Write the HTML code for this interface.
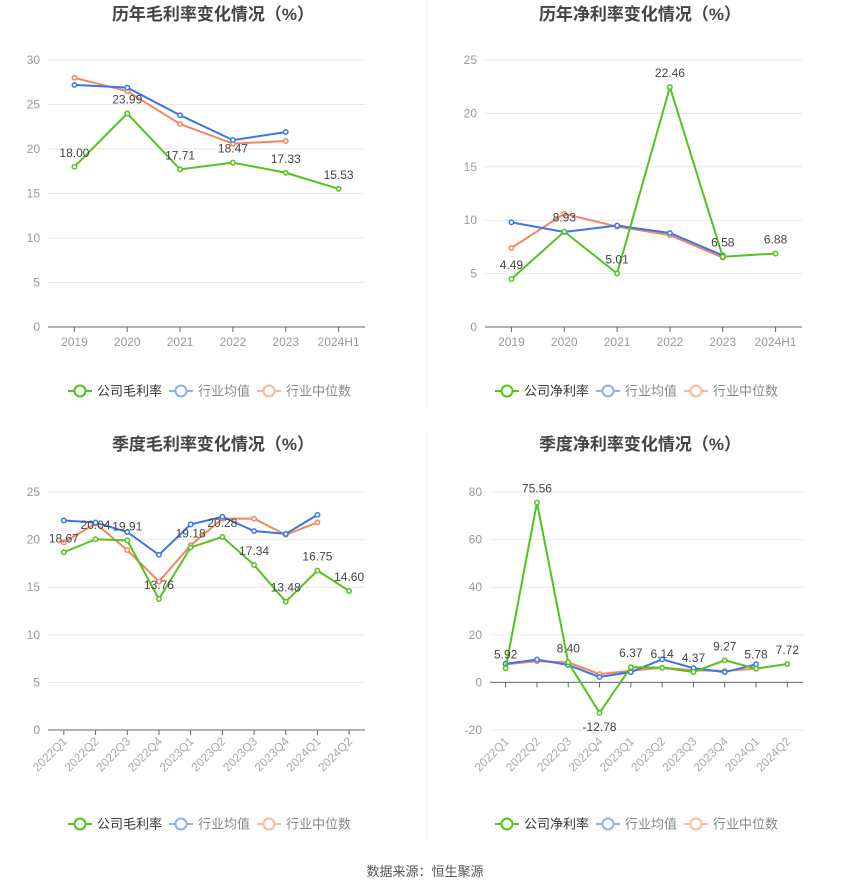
<!DOCTYPE html>
<html><head><meta charset="utf-8">
<style>
body{margin:0;background:#fff;width:850px;height:891px;overflow:hidden;font-family:"Liberation Sans","Noto Sans CJK SC",sans-serif;}
svg{display:block}
</style></head>
<body>
<svg id="root" width="850" height="891" xmlns="http://www.w3.org/2000/svg">
<line x1="427" y1="0" x2="427" y2="407" stroke="#eee"/>
<line x1="427" y1="431" x2="427" y2="840" stroke="#eee"/>
<text x="425" y="876" text-anchor="middle" font-size="13" fill="#555">数据来源：恒生聚源</text>
</svg>
<script>
// Chart 1 data
const c1Cats=["2019","2020","2021","2022","2023","2024H1"];
const c1Company=[18.00,23.99,17.71,18.47,17.33,15.53];
const c1Avg=[27.2,26.9,23.8,21.0,21.9];
const c1Median=[28.0,26.5,22.8,20.6,20.9];
const c1Ticks=[0,5,10,15,20,25,30];
// Chart 2 data
const c2Cats=["2019","2020","2021","2022","2023","2024H1"];
const c2Company=[4.49,8.93,5.01,22.46,6.58,6.88];
const c2Avg=[9.8,8.9,9.5,8.8,6.7];
const c2Median=[7.4,10.6,9.4,8.6,6.5];
const c2Ticks=[0,5,10,15,20,25];
// Chart 3 data
const c3Cats=["2022Q1","2022Q2","2022Q3","2022Q4","2023Q1","2023Q2","2023Q3","2023Q4","2024Q1","2024Q2"];
const c3Company=[18.67,20.04,19.91,13.76,19.18,20.28,17.34,13.48,16.75,14.60];
const c3Avg=[22.0,21.8,20.8,18.4,21.6,22.4,20.9,20.6,22.6];
const c3Median=[19.7,21.7,18.9,15.6,19.4,22.2,22.2,20.5,21.8];
const c3Ticks=[0,5,10,15,20,25];
// Chart 4 data
const c4Cats=["2022Q1","2022Q2","2022Q3","2022Q4","2023Q1","2023Q2","2023Q3","2023Q4","2024Q1","2024Q2"];
const c4Company=[5.92,75.56,8.40,-12.78,6.37,6.14,4.37,9.27,5.78,7.72];
const c4Avg=[7.8,9.6,7.3,2.3,4.3,9.7,6.0,4.3,7.6];
const c4Median=[7.6,8.9,8.4,3.5,4.9,6.2,5.1,4.8,5.8];
const c4Ticks=[-20,0,20,40,60,80];

const NS="http://www.w3.org/2000/svg";
const root=document.getElementById('root');
function mk(tag,attrs,parent){const e=document.createElementNS(NS,tag);for(const k in attrs)e.setAttribute(k,attrs[k]);(parent||root).appendChild(e);return e;}

const GREEN="#52c41a",BLUE="#3a76e8",ORANGE="#f5855a";

function chart(o){
  const g=mk('g',{});
  
  
  const n=o.cats.length, step=(o.right-o.left)/n;
  const x=i=>o.left+step*(i+0.5);
  const y=v=>o.y0+(v-o.t0)*(o.y1-o.y0)/(o.t1-o.t0);
  const t=mk('text',{x:o.cx,y:o.titleY,'text-anchor':'middle','font-size':17,'font-weight':'bold',fill:'#444'},g);
  t.textContent=o.title;
  
  
  o.ticks.forEach(v=>{
    const l=mk('line',{x1:o.left,x2:o.right,y1:y(v),y2:y(v),stroke:'#e3e7f3'},g);
    
    
    const tl=mk('text',{x:o.left-8,y:y(v)+4,'text-anchor':'end','font-size':12,fill:'#999'},g);
    tl.textContent=v;
    
    
  });
  const ay=y(0);
  const ax=mk('line',{x1:o.left,x2:o.right,y1:ay,y2:ay,stroke:'#666'},g);
  
  
  o.cats.forEach((c,i)=>{
    mk('line',{x1:x(i),x2:x(i),y1:ay,y2:ay+5,stroke:'#666'},g);
    let tl;
    if(o.rot){
      const yy=y(o.t0)+12;
      tl=mk('text',{x:x(i)+4,y:yy,'text-anchor':'end','font-size':12,fill:'#aaa',transform:`rotate(-45 ${x(i)+4} ${yy})`},g);
    } else {
      tl=mk('text',{x:x(i),y:ay+19,'text-anchor':'middle','font-size':12,fill:'#999'},g);
    }
    tl.textContent=c;
    
    
  });
  const series=[[o.median,ORANGE,'industry-median-line'],[o.avg,BLUE,'industry-average-line'],[o.company,GREEN,'company-line']];
  series.forEach(([d,col,nm])=>{
    const p=mk('polyline',{points:d.map((v,i)=>x(i)+','+y(v)).join(' '),fill:'none',stroke:col,'stroke-width':2},g);
    
    
    d.forEach((v,i)=>{
      const c=mk('circle',{cx:x(i),cy:y(v),r:2.2,fill:'#fff',stroke:col,'stroke-width':1.5},g);
      
      
    });
  });
  o.company.forEach((v,i)=>{
    const lb=mk('text',{x:x(i),y:y(v)-(v<0?-18:10),'text-anchor':'middle','font-size':12,fill:'#444'},g);
    lb.textContent=v.toFixed(2);
    
    
  });
  // legend
  const ly=o.legendY;
  const items=[[o.leg,GREEN,'#333',-145],['行业均值','#8fb0f0','#888',-44],['行业中位数','#f8b89e','#888',44]];
  items.forEach(([txt,col,tc,off])=>{
    const lg=mk('g',{},g);
    
    
    const bx=o.cx+off;
    mk('line',{x1:bx,x2:bx+24,y1:ly,y2:ly,stroke:col,'stroke-width':2},lg);
    mk('circle',{cx:bx+12,cy:ly,r:5.5,fill:'#fff',stroke:col,'stroke-width':2},lg);
    const tt=mk('text',{x:bx+29,y:ly+4.5,'font-size':13,fill:tc},lg);
    tt.textContent=txt;
  });
}

chart({name:'annual-gross-margin-chart',title:'历年毛利率变化情况（%）',titleY:20,cx:213,left:48,right:365,y0:327,y1:60,t0:0,t1:30,cats:c1Cats,company:c1Company,avg:c1Avg,median:c1Median,ticks:c1Ticks,legendY:391,leg:'公司毛利率'});
chart({name:'annual-net-margin-chart',title:'历年净利率变化情况（%）',titleY:20,cx:640,left:485,right:802,y0:327,y1:60,t0:0,t1:25,cats:c2Cats,company:c2Company,avg:c2Avg,median:c2Median,ticks:c2Ticks,legendY:391,leg:'公司净利率'});
chart({name:'quarterly-gross-margin-chart',title:'季度毛利率变化情况（%）',titleY:450,cx:213,left:48,right:365,y0:730,y1:492,t0:0,t1:25,cats:c3Cats,company:c3Company,avg:c3Avg,median:c3Median,ticks:c3Ticks,legendY:824,leg:'公司毛利率',rot:true});
chart({name:'quarterly-net-margin-chart',title:'季度净利率变化情况（%）',titleY:450,cx:640,left:490,right:803,y0:730,y1:492,t0:-20,t1:80,cats:c4Cats,company:c4Company,avg:c4Avg,median:c4Median,ticks:c4Ticks,legendY:824,leg:'公司净利率',rot:true});
</script>
</body></html>
